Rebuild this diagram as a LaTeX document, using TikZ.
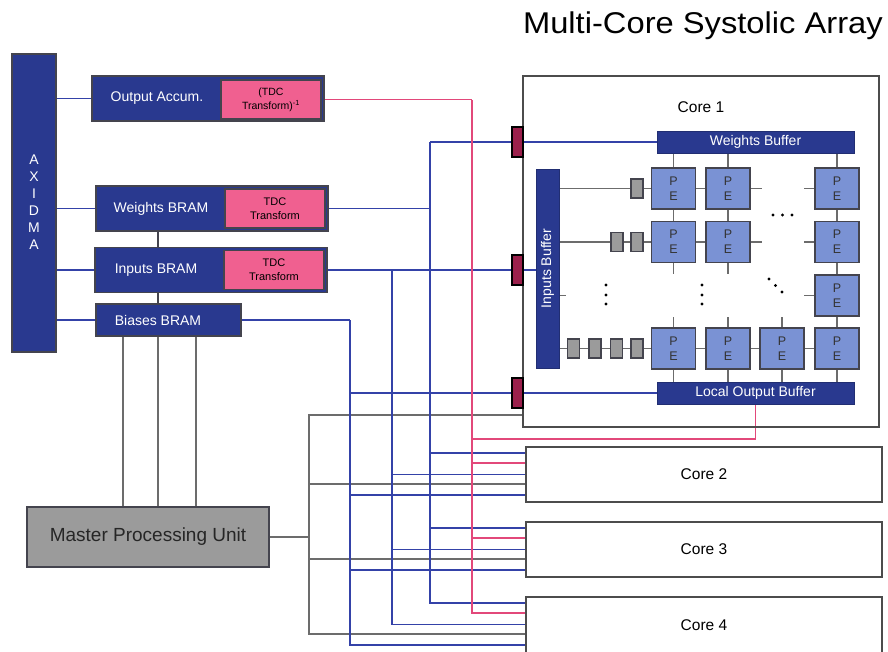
\documentclass[tikz,border=0pt]{standalone}
\usepackage{fontspec}
\setmainfont{Liberation Sans}
\definecolor{navy}{RGB}{41,57,143}
\definecolor{pebl}{RGB}{122,146,212}
\definecolor{pinkf}{RGB}{240,96,144}
\definecolor{maroon}{RGB}{155,32,76}
\definecolor{bline}{RGB}{52,66,168}
\definecolor{pline}{RGB}{226,72,122}
\definecolor{gline}{RGB}{108,108,108}
\definecolor{edgec}{RGB}{68,68,78}
\definecolor{mpuf}{RGB}{155,155,155}
\pgfdeclarelayer{bg}
\pgfsetlayers{bg,main}
\begin{document}
\begin{tikzpicture}[x=1pt,y=-1pt,
  box/.style={rectangle, inner sep=0pt, outer sep=0pt},
  navybox/.style={box, fill=navy, draw=edgec, line width=1.6pt},
  pinkbox/.style={box, fill=pinkf, draw=edgec, line width=1.4pt, minimum width=100pt, minimum height=39pt, align=center, font=\fontsize{11}{14}\selectfont},
  bufbox/.style={box, fill=navy, draw=navy!80!black, line width=0.8pt, text=white, font=\fontsize{14}{16}\selectfont},
  pebox/.style={box, fill=pebl, draw=edgec, line width=1.4pt, minimum width=44pt, minimum height=41pt, align=center, font=\fontsize{12.5}{15}\selectfont, text=black!80},
  regbox/.style={box, fill=mpuf, draw=edgec, line width=1.2pt, minimum width=12pt, minimum height=19pt},
  portbox/.style={box, fill=maroon, draw=black, line width=1.2pt, minimum width=11pt, minimum height=30pt},
  corebox/.style={box, draw=gray!60!black, line width=1.4pt, minimum width=356pt, font=\fontsize{15.5}{18}\selectfont},
  wlbl/.style={text=white, font=\fontsize{14}{16}\selectfont, inner sep=0pt},
  bl/.style={draw=bline, line width=1.7pt},
  pk/.style={draw=pline, line width=1.7pt},
  gl/.style={draw=gline, line width=1.7pt},
]
\useasboundingbox (0,0) rectangle (888,651);

% title
\node[anchor=base east, font=\fontsize{30}{34}\selectfont, inner sep=0pt] (title) at (883,33) {\scalebox{1.09}[1]{Multi-Core Systolic Array}};

% left side blocks
\node[navybox, minimum width=44pt, minimum height=298pt] (axi) at (34,203) {};
\node[wlbl, align=center, font=\fontsize{14}{17}\selectfont] (axit) at (34,202) {A\\X\\I\\D\\M\\A};

\node[navybox, minimum width=232pt, minimum height=45pt] (oacc) at (208,98.5) {};
\node[pinkbox, font=\fontsize{10.5}{14}\selectfont] (oaccT) at (271,99.5) {(TDC\\Transform)\textsuperscript{-1}};
\node[wlbl] (oaccl) at (157,98.5) {Output Accum.};

\node[navybox, minimum width=232pt, minimum height=45pt] (wbram) at (212,208.5) {};
\node[pinkbox] (wbramT) at (275,208.5) {TDC\\Transform};
\node[wlbl] (wbraml) at (161,208.5) {Weights BRAM};

\node[navybox, minimum width=232pt, minimum height=45pt] (ibram) at (211,270) {};
\node[pinkbox] (ibramT) at (274,270) {TDC\\Transform};
\node[wlbl] (ibraml) at (156,270) {Inputs BRAM};

\node[navybox, minimum width=145pt, minimum height=32pt] (bbram) at (168.5,320) {};
\node[wlbl] (bbraml) at (158,320) {Biases BRAM};

\node[box, fill=mpuf, draw=edgec, line width=1.6pt, minimum width=242pt, minimum height=60pt, font=\fontsize{19}{22}\selectfont, text=black!85] (mpu) at (148,537) {Master Processing Unit};

% cores
\node[corebox, minimum height=351pt] (core1) at (701,251.5) {};
\node[font=\fontsize{15.5}{18}\selectfont, inner sep=0pt] (core1l) at (701,107) {Core 1};
\node[corebox, minimum height=55pt] (core2) at (704,474.5) {Core 2};
\node[corebox, minimum height=55pt] (core3) at (704,549.5) {Core 3};
\node[box, minimum width=356pt, minimum height=56pt, font=\fontsize{15.5}{18}\selectfont] (core4) at (704,625) {Core 4};
\draw[draw=gray!60!black, line width=1.4pt] (core4.south west) |- (core4.north east) -- (core4.south east);

% ports
\node[portbox] (port1) at (517.5,142) {};
\node[portbox] (port2) at (517.5,270) {};
\node[portbox] (port3) at (517.5,393) {};

% core 1 internals
\node[bufbox, minimum width=197pt, minimum height=22pt] (wbuf) at (755.5,142) {Weights Buffer};
\node[bufbox, minimum width=197pt, minimum height=22pt] (lob) at (755.5,393) {Local Output Buffer};
\node[bufbox, minimum width=23pt, minimum height=199pt] (ibuf) at (547.5,268.5) {};
\node[wlbl, rotate=90] (ibufl) at (547.5,268.5) {Inputs Buffer};

\node[pebox] (pe11) at (673.5,188.5) {P\\E};
\node[pebox] (pe12) at (728,188.5) {P\\E};
\node[pebox] (pe14) at (837,188.5) {P\\E};
\node[pebox] (pe21) at (673.5,242) {P\\E};
\node[pebox] (pe22) at (728,242) {P\\E};
\node[pebox] (pe24) at (837,242) {P\\E};
\node[pebox] (pe34) at (837,295.5) {P\\E};
\node[pebox] (pe41) at (673.5,348.5) {P\\E};
\node[pebox] (pe42) at (728,348.5) {P\\E};
\node[pebox] (pe43) at (782,348.5) {P\\E};
\node[pebox] (pe44) at (837,348.5) {P\\E};

\node[regbox] (r11) at (637,188.5) {};
\node[regbox] (r21) at (617,242) {};
\node[regbox] (r22) at (637,242) {};
\node[regbox] (r41) at (573.5,348.5) {};
\node[regbox] (r42) at (595,348.5) {};
\node[regbox] (r43) at (616.5,348.5) {};
\node[regbox] (r44) at (637,348.5) {};

% dots
\foreach \p in {(606,285),(606,295),(606,304),(702,285),(702,295),(702,304),(769,279),(775.5,285.5),(782,292),(773,215),(782.5,215),(792,215)}
  \fill \p circle (1.7pt);

\coordinate (wtop) at (430,142);
\coordinate (itop) at (392,270);
\coordinate (btop) at (350,320);
\coordinate (ptop) at (472,99.5);
\coordinate (pj) at (472,439);
\coordinate (gj) at (309,537);

\begin{pgfonlayer}{bg}
% AXIDMA links
\draw[bl] (axi.east |- oacc.west) -- (oacc.west);
\draw[bl] (axi.east |- wbram.west) -- (wbram.west);
\draw[bl] (axi.east |- ibram.west) -- (ibram.west);
\draw[bl] (axi.east |- bbram.west) -- (bbram.west);
% BRAM chain
\draw[draw=edgec, line width=1.7pt] ([xshift=-54pt]wbram.south) -- ([xshift=-54pt]wbram.south |- ibram.north);
\draw[draw=edgec, line width=1.7pt] ([xshift=-53pt]ibram.south) -- ([xshift=-53pt]ibram.south |- bbram.north);
% Biases to MPU
\foreach \dx in {-45.5,-10.5,27.5}
  \draw[gl] ([xshift=\dx pt]bbram.south) -- ([xshift=\dx pt]bbram.south |- mpu.north);
% buses
\draw[pk] (oaccT.east) -- (ptop);
\draw[bl] (wbramT.east) -- (wbramT.east -| wtop);
\draw[bl] (port1.west) -- (wtop);
\draw[bl] (ibramT.east) -- (port2.west);
\draw[bl] (bbram.east) -- (btop);
\draw[bl] (port3.west) -| (btop);
\draw[pk] (lob.south) |- (pj) -- (ptop);
\draw[gl] (mpu.east) -- (gj);
\draw[gl] ([yshift=12pt]core1.south west) -| (gj);
\foreach \c in {core2,core3,core4} {
  \draw[bl] ([yshift=-6pt]\c.north west) -| (wtop);
  \draw[pk] ([yshift=-16pt]\c.north west) -| (ptop);
  \draw[bl] ([yshift=-27.5pt]\c.north west) -| (itop);
  \draw[gl] ([yshift=-37pt]\c.north west) -| (gj);
  \draw[bl] ([yshift=-48pt]\c.north west) -| (btop);
}
% core1 inner links
\draw[bl] (port1.east) -- (wbuf.west);
\draw[bl] (port2.east) -- (ibuf.west |- port2.east);
\draw[bl] (port3.east) -- (lob.west);
% rows
\draw[gl] (ibuf.east |- r11) -- (r11) -- (pe11) -- (pe12);
\draw[gl] (pe12.east) -- ++(12,0);
\draw[gl] (pe14.west) -- ++(-11,0);
\draw[gl] (ibuf.east |- r21) -- (r21) -- (r22) -- (pe21) -- (pe22);
\draw[gl] (pe22.east) -- ++(12,0);
\draw[gl] (pe24.west) -- ++(-11,0);
\draw[gl] (ibuf.east |- pe34) -- ++(7,0);
\draw[gl] (pe34.west) -- ++(-11,0);
\draw[gl] (ibuf.east |- r41) -- (r41) -- (r42) -- (r43) -- (r44) -- (pe41) -- (pe42) -- (pe43) -- (pe44);
% columns
\foreach \p in {pe11,pe12,pe14}
  \draw[gl] (\p.north |- wbuf.south) -- (\p.north);
\draw[gl] (pe11) -- (pe21);
\draw[gl] (pe12) -- (pe22);
\draw[gl] (pe14) -- (pe24) -- (pe34) -- (pe44);
\draw[gl] (pe21.south) -- ++(0,11);
\draw[gl] (pe22.south) -- ++(0,11);
\foreach \p in {pe41,pe42,pe43}
  \draw[gl] (\p.north) -- ++(0,-11);
\foreach \p in {pe41,pe42,pe43,pe44}
  \draw[gl] (\p.south) -- (\p.south |- lob.north);
\end{pgfonlayer}
\end{tikzpicture}
\end{document}
